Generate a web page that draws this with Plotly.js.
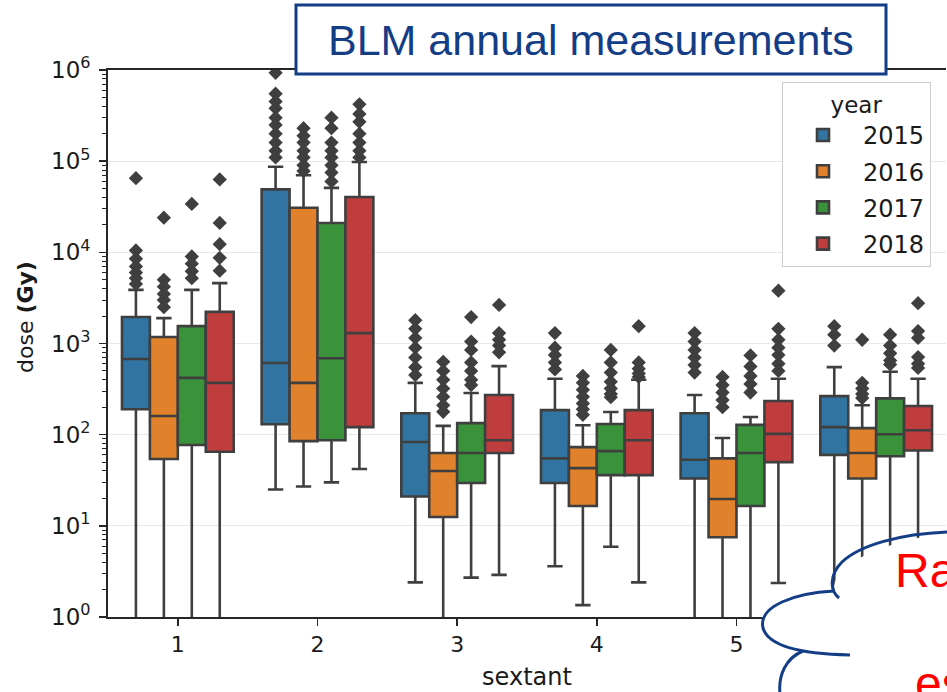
<!DOCTYPE html>
<html><head><meta charset="utf-8">
<script src="https://cdn.plot.ly/plotly-3.0.1.min.js"></script>
<style>html,body{margin:0;padding:0;background:#fff;overflow:hidden}#chart{width:947px;height:692px;}</style>
</head><body><div id="chart"></div>
<script>
// ---------- data ----------
const sextants = ['1','2','3','4','5','6'];
const years = ['2015','2016','2017','2018'];
const yTickVals = [1, 10, 100, 1000, 10000, 100000, 1000000];
const yTickText = ['10<sup>0</sup>','10<sup>1</sup>','10<sup>2</sup>','10<sup>3</sup>','10<sup>4</sup>','10<sup>5</sup>','10<sup>6</sup>'];

const q1_2015 = [190, 130, 21, 29.5, 33, 60];
const median_2015 = [675, 610, 83, 55, 53, 121];
const q3_2015 = [1950, 49000, 172, 186, 172, 265];
const lowerWhisker_2015 = [0.1, 25, 2.4, 3.6, 0.1, 0.1];
const upperWhisker_2015 = [3870, 87000, 370, 410, 272, 550];
const outliers_2015 = [[65000,10500,8500,7000,6000,5200,4500],[930000,550000,450000,380000,300000,250000,200000,160000,130000,110000],[1800,1450,1150,900,700,550,450],[1300,900,750,620,520],[1300,1050,850,700,580,480],[1550,1250,950]];

const q1_2016 = [54, 85, 12.5, 16.5, 7.5, 33];
const median_2016 = [160, 370, 40, 43, 19.7, 63];
const q3_2016 = [1180, 30800, 63, 73, 55, 118];
const lowerWhisker_2016 = [0.1, 27, 0.1, 1.35, 0.1, 0.1];
const upperWhisker_2016 = [1900, 70000, 125, 127, 92, 210];
const outliers_2016 = [[24000,5000,4200,3500,3000,2500],[230000,190000,160000,130000,110000,90000,78000],[630,500,400,320,260,210,178],[440,370,310,260,220,190,165],[430,350,290,240,200],[1100,370,320,280,252]];

const q1_2017 = [77, 87, 29.5, 36, 16.5, 58];
const median_2017 = [420, 690, 63, 66, 63, 101];
const q3_2017 = [1550, 21000, 134, 131, 128, 250];
const lowerWhisker_2017 = [0.1, 30, 2.7, 5.9, 0.1, 0.1];
const upperWhisker_2017 = [3870, 51000, 286, 177, 156, 490];
const outliers_2017 = [[34000,9000,7500,6200,5200],[300000,230000,160000,130000,110000,90000,75000,60000],[1950,1050,850,620,500,400,350],[850,620,480,380,320,280,258],[740,560,440,360,290],[1250,950,780,650,590]];

const q1_2018 = [65, 121, 63, 36, 50, 67];
const median_2018 = [370, 1300, 87, 87, 102, 112];
const q3_2018 = [2220, 40500, 272, 186, 234, 206];
const lowerWhisker_2018 = [0.1, 42, 2.9, 2.4, 2.36, 0.1];
const upperWhisker_2018 = [4600, 98000, 565, 400, 410, 410];
const outliers_2018 = [[63000,21000,12300,8700,6300],[420000,330000,270000,200000,160000,130000,110000],[2650,1300,1100,950,800],[1550,620,530,470,430],[3800,1450,1100,900,750,600,500],[2770,1370,1150,710,600,540]];

// ---------- styling ----------
const colors = ['#3274a1','#e1812c','#3a923a','#c03d3e'];
const Q1 = [q1_2015,q1_2016,q1_2017,q1_2018];
const MED = [median_2015,median_2016,median_2017,median_2018];
const Q3 = [q3_2015,q3_2016,q3_2017,q3_2018];
const LO = [lowerWhisker_2015,lowerWhisker_2016,lowerWhisker_2017,lowerWhisker_2018];
const HI = [upperWhisker_2015,upperWhisker_2016,upperWhisker_2017,upperWhisker_2018];
const OUT = [outliers_2015,outliers_2016,outliers_2017,outliers_2018];

const W = 947, H = 692, ML = 108, MR = 1, MT = 70, MB = 75;
const PW = W - ML - MR, PH = H - MT - MB;
const px = x => (x - ML) / PW;
const py = y => (MT + PH - y) / PH;
function pathOf(tokens){
  let out = '', k = 0;
  tokens.forEach(t => {
    if (typeof t === 'string') { out += t + ' '; k = 0; }
    else { out += (k % 2 === 0 ? px(t) : py(t)).toFixed(5) + (k % 2 === 0 ? ',' : ' '); k++; }
  });
  return out.trim();
}

const gray = '#3f3f3f';
const data = [];
years.forEach((yr, i) => {
  data.push({
    type: 'box', name: yr, x: sextants,
    q1: Q1[i], median: MED[i], q3: Q3[i], lowerfence: LO[i], upperfence: HI[i],
    fillcolor: colors[i], line: {color: gray, width: 2.6}, whiskerwidth: 0.55,
    boxpoints: false, offsetgroup: yr, legendgroup: yr, hoverinfo: 'skip'
  });
});
years.forEach((yr, i) => {
  const xs = [], ys = [];
  OUT[i].forEach((arr, j) => arr.forEach(v => { xs.push(sextants[j]); ys.push(v); }));
  data.push({
    type: 'scatter', mode: 'markers', x: xs, y: ys, offsetgroup: yr, legendgroup: yr,
    showlegend: false, hoverinfo: 'skip', cliponaxis: true,
    marker: {symbol: 'diamond', size: 11, color: gray, line: {width: 0}}
  });
});

const navy = '#133d85';
const fontFam = 'DejaVu Sans, sans-serif';
const txt = '#1a1a1a';
const layout = {
  width: W, height: H,
  margin: {l: ML, r: MR, t: MT, b: MB, pad: 0},
  paper_bgcolor: '#ffffff', plot_bgcolor: '#ffffff',
  font: {family: fontFam, size: 22, color: txt},
  boxmode: 'group', boxgap: 0.2, boxgroupgap: 0,
  scattermode: 'group', scattergap: 0.2,
  showlegend: true,
  legend: {
    x: px(782), y: py(82), xanchor: 'left', yanchor: 'top',
    bgcolor: '#ffffff', bordercolor: '#cccccc', borderwidth: 1,
    font: {family: fontFam, size: 24, color: txt},
    title: {text: 'year', side: 'top center', font: {family: fontFam, size: 23, color: txt}},
    tracegroupgap: 2, itemwidth: 70
  },
  xaxis: {
    type: 'category', range: [-0.5, 5.5], fixedrange: true,
    showline: true, linecolor: '#262626', linewidth: 1.8, mirror: true,
    ticks: 'outside', ticklen: 7, tickwidth: 1.5, tickcolor: '#262626',
    showgrid: false, zeroline: false,
    tickfont: {family: fontFam, size: 22, color: txt},
    title: {text: 'sextant', standoff: 12, font: {family: fontFam, size: 24, color: txt}}
  },
  yaxis: {
    type: 'log', range: [0, 6], fixedrange: true,
    tickmode: 'array', tickvals: yTickVals, ticktext: yTickText,
    showline: true, linecolor: '#262626', linewidth: 1.8,
    ticks: 'outside', ticklen: 7, tickwidth: 1.5, tickcolor: '#262626', ticklabelstandoff: 4,
    minor: {tickmode: 'linear', dtick: 'D1', ticks: 'outside', ticklen: 4, tickwidth: 1, tickcolor: '#262626', showgrid: false},
    showgrid: true, gridcolor: '#e8e8e8', gridwidth: 1.3, zeroline: false,
    tickfont: {family: fontFam, size: 23, color: txt}
  },
  shapes: [
    {type: 'rect', xref: 'paper', yref: 'paper', x0: px(296), x1: px(886), y0: py(74), y1: py(5),
     fillcolor: '#ffffff', line: {color: navy, width: 3}, layer: 'above'},
    {type: 'path', xref: 'paper', yref: 'paper', layer: 'above', fillcolor: '#ffffff', line: {width: 0},
     path: pathOf(['M',836,596,'C',828,578,845,550,947,532,'L',948,693,'L',779,693,'C',781,672,790,657,803,651,'C',772,646,756,632,763,617,'C',770,600,800,592,833,591,'Z'])},
    {type: 'path', xref: 'paper', yref: 'paper', layer: 'above', line: {color: navy, width: 3},
     path: pathOf(['M',839,598,'C',829,590,830,574,842,562,'C',860,545,900,534,947,532])},
    {type: 'path', xref: 'paper', yref: 'paper', layer: 'above', line: {color: navy, width: 3},
     path: pathOf(['M',834,591,'C',795,593,758,606,763,628,'C',768,646,800,654,850,655])},
    {type: 'path', xref: 'paper', yref: 'paper', layer: 'above', line: {color: navy, width: 3},
     path: pathOf(['M',803,651,'C',786,658,778,675,780,694])}
  ],
  annotations: [
    // y-axis title placed where the reference shows it
    {xref: 'paper', yref: 'paper', x: px(25), y: py(317), xanchor: 'center', yanchor: 'middle',
     textangle: -90, text: 'dose <b>(Gy)</b>', showarrow: false,
     font: {family: fontFam, size: 22, color: txt}},
    {xref: 'paper', yref: 'paper', x: px(591), y: py(40), xanchor: 'center', yanchor: 'middle',
     text: 'BLM annual measurements', showarrow: false,
     font: {family: 'Liberation Sans, Arial, sans-serif', size: 43, color: navy}},
    {xref: 'paper', yref: 'paper', x: px(893), y: py(570), xanchor: 'left', yanchor: 'middle',
     text: 'Ra', showarrow: false, font: {family: 'Liberation Sans, Arial, sans-serif', size: 48, color: '#ff0000'}},
    {xref: 'paper', yref: 'paper', x: px(913), y: py(655), xanchor: 'left', yanchor: 'top',
     text: 'es', showarrow: false, font: {family: 'Liberation Sans, Arial, sans-serif', size: 48, color: '#ff0000'}}
  ]
};

Plotly.newPlot('chart', data, layout, {displayModeBar: false, staticPlot: true});
</script>
</body></html>
